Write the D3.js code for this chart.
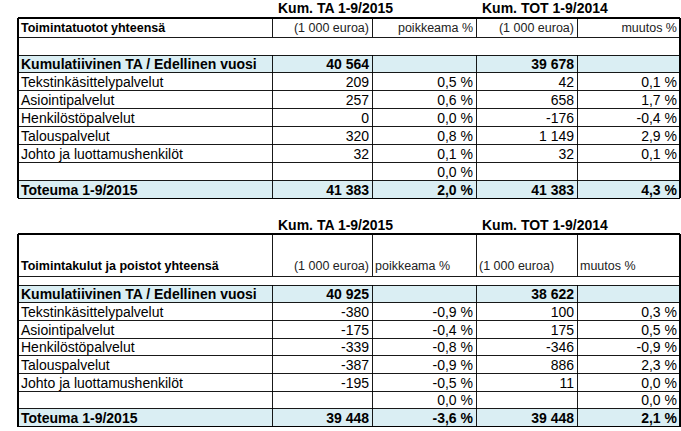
<!DOCTYPE html>
<html><head><meta charset="utf-8">
<script src="https://cdn.jsdelivr.net/npm/d3@7"></script>
<style>body{margin:0;background:#fff}svg{display:block}</style></head>
<body><svg id="c" width="681" height="431"></svg>
<script>
const groupTitles = ["Kum. TA 1-9/2015", "Kum. TOT 1-9/2014"];
const rowLabels = ["Kumulatiivinen TA / Edellinen vuosi","Tekstinkäsittelypalvelut","Asiointipalvelut","Henkilöstöpalvelut","Talouspalvelut","Johto ja luottamushenkilöt","","Toteuma 1-9/2015"];
const t1Title = "Toimintatuotot yhteensä";
const t1TA = ["40 564","209","257","0","320","32","","41 383"];
const t1TApct = ["","0,5 %","0,6 %","0,0 %","0,8 %","0,1 %","0,0 %","2,0 %"];
const t1TOT = ["39 678","42","658","-176","1 149","32","","41 383"];
const t1TOTpct = ["","0,1 %","1,7 %","-0,4 %","2,9 %","0,1 %","","4,3 %"];
const t2Title = "Toimintakulut ja poistot yhteensä";
const t2TA = ["40 925","-380","-175","-339","-387","-195","","39 448"];
const t2TApct = ["","-0,9 %","-0,4 %","-0,8 %","-0,9 %","-0,5 %","0,0 %","-3,6 %"];
const t2TOT = ["38 622","100","175","-346","886","11","","39 448"];
const t2TOTpct = ["","0,3 %","0,5 %","-0,9 %","2,3 %","0,0 %","0,0 %","2,1 %"];
const unitLabels = ["(1 000 euroa)","poikkeama %","(1 000 euroa)","muutos %"];

const svg = d3.select("#c");
const colX = [18,272,372,476,577,680];
const blue = "#DAEEF3";

function table(cfg){
  const g = svg.append("g").attr("font-family", cfg.font);
  const {top, headH, gapH, rowH} = cfg;
  const y = d3.scaleLinear().domain([0,8]).range([top+headH+gapH, top+headH+gapH+8*rowH]);
  const cols = [rowLabels, cfg.ta, cfg.tapct, cfg.tot, cfg.totpct];
  [0,7].forEach(r=>g.append("rect").attr("x",colX[0]).attr("y",y(r)).attr("width",colX[5]-colX[0]).attr("height",rowH).attr("fill",blue));
  g.selectAll(".gt").data(groupTitles).join("text").attr("x",(d,i)=>colX[1+2*i]+cfg.gtOff).attr("y",cfg.gtY)
    .attr("font-weight","bold").attr("font-size",cfg.fs).text(d=>d);
  const hs = [top, top+headH, top+headH+gapH].concat(d3.range(1,9).map(r=>y(r)));
  g.selectAll(".h").data(hs).join("line").attr("x1",colX[0]).attr("x2",colX[5]).attr("y1",d=>d).attr("y2",d=>d)
    .attr("stroke","#000").attr("stroke-width",(d,i)=>i==0||i==hs.length-1?1.3:0.9).attr("shape-rendering","crispEdges");
  colX.forEach((cx,i)=>{
    const outer = i==0||i==5;
    const segs = [[top, top+headH],[y(0), y(8)]];
    if(outer) segs.push([top+headH, y(0)]);
    segs.forEach(s=>g.append("line").attr("x1",cx).attr("x2",cx).attr("y1",s[0]).attr("y2",s[1])
      .attr("stroke","#000").attr("stroke-width",outer?1.3:0.9).attr("shape-rendering","crispEdges"));
  });
  g.append("text").attr("x",colX[0]+3).attr("y",top+headH-cfg.headPad).attr("font-weight","bold").attr("font-size",cfg.fsHead).text(cfg.title);
  unitLabels.forEach((u,i)=>{
    const left = cfg.unitAlign[i]=="start";
    g.append("text").attr("x",left?colX[i+1]+3:colX[i+2]-3).attr("y",top+headH-cfg.headPad)
      .attr("text-anchor",left?"start":"end").attr("font-size",cfg.fsHead).attr("fill","#222").text(u);
  });
  cols.forEach((col,ci)=>{
    g.selectAll(".c"+ci).data(col).join("text")
      .attr("x",ci==0?colX[0]+3:colX[ci+1]-3).attr("text-anchor",ci==0?"start":"end")
      .attr("y",(d,r)=>y(r)+rowH-3.5).attr("font-size",cfg.fs)
      .attr("font-weight",(d,r)=>(r==0||r==7)?"bold":"normal").text(d=>d);
  });
}
table({top:18, headH:19, gapH:18, rowH:17.9, gtY:13, ta:t1TA, tapct:t1TApct, tot:t1TOT, totpct:t1TOTpct, title:t1Title,
  font:"Liberation Sans, Arial, sans-serif", fs:14, fsHead:12.5, headPad:5, gtOff:6, unitAlign:["end","end","end","end"]});
table({top:234, headH:42, gapH:9, rowH:17.7, gtY:230, ta:t2TA, tapct:t2TApct, tot:t2TOT, totpct:t2TOTpct, title:t2Title,
  font:"Liberation Sans Narrow, Arial Narrow, Liberation Sans, sans-serif", fs:14, fsHead:12.5, headPad:6, gtOff:6, unitAlign:["end","start","start","start"]});
</script></body></html>
